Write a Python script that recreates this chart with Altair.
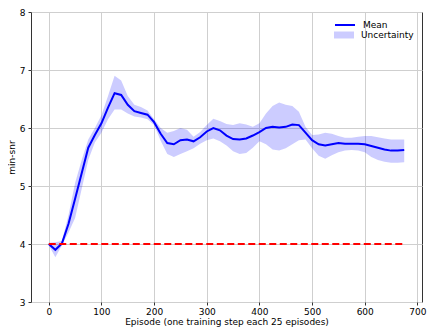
import altair as alt
import pandas as pd

episodes = [i * 12.5 for i in range(55)]
mean_vals = [4.00, 3.90, 4.01, 4.35, 4.78, 5.22, 5.66, 5.88, 6.08, 6.35,
             6.60, 6.57, 6.40, 6.29, 6.26, 6.23, 6.10, 5.90, 5.74, 5.72,
             5.79, 5.80, 5.77, 5.84, 5.94, 6.00, 5.96, 5.87, 5.81, 5.80,
             5.82, 5.87, 5.93, 6.00, 6.02, 6.01, 6.02, 6.06, 6.05, 5.92,
             5.79, 5.72, 5.70, 5.72, 5.74, 5.73, 5.73, 5.73, 5.72, 5.69,
             5.66, 5.63, 5.61, 5.61, 5.62]
lower_vals = [3.98, 3.77, 3.98, 4.20, 4.45, 4.95, 5.45, 5.75, 5.92, 6.15,
              6.32, 6.32, 6.25, 6.20, 6.18, 6.15, 6.05, 5.78, 5.55, 5.50,
              5.55, 5.60, 5.65, 5.73, 5.79, 5.82, 5.77, 5.70, 5.60, 5.55,
              5.57, 5.66, 5.77, 5.72, 5.63, 5.61, 5.65, 5.72, 5.79, 5.80,
              5.65, 5.52, 5.47, 5.53, 5.58, 5.61, 5.62, 5.61, 5.58, 5.50,
              5.45, 5.42, 5.40, 5.40, 5.41]
upper_vals = [4.02, 4.03, 4.05, 4.50, 5.05, 5.45, 5.80, 6.00, 6.22, 6.55,
              6.90, 6.82, 6.55, 6.40, 6.36, 6.30, 6.15, 6.00, 5.92, 5.95,
              6.00, 5.97, 5.85, 5.93, 6.05, 6.16, 6.12, 6.07, 6.05, 6.08,
              6.06, 6.02, 6.08, 6.25, 6.38, 6.44, 6.40, 6.38, 6.28, 6.02,
              5.88, 5.89, 5.92, 5.90, 5.86, 5.83, 5.83, 5.85, 5.86, 5.86,
              5.84, 5.82, 5.80, 5.80, 5.80]
baseline_x = [0, 675]
baseline_y = [4, 4]

df = pd.DataFrame({"episode": episodes, "mean": mean_vals, "lo": lower_vals,
                   "hi": upper_vals})
df["series"] = "Mean"
df["band"] = "Uncertainty"
base_df = pd.DataFrame({"episode": baseline_x, "value": baseline_y})

FONT = "DejaVu Sans"
xscale = alt.Scale(domain=[-33.75, 708.75], nice=False, zero=False)
yscale = alt.Scale(domain=[3, 8], nice=False, zero=False)

xaxis = alt.Axis(values=[0, 100, 200, 300, 400, 500, 600, 700], format="d",
                 title="Episode (one training step each 25 episodes)",
                 grid=True, labelPadding=2, titlePadding=1)
yaxis = alt.Axis(values=[3, 4, 5, 6, 7, 8], format="d", title="min-snr",
                 grid=True, labelPadding=3, titlePadding=3)

band = alt.Chart(df).mark_area(opacity=0.2).encode(
    x=alt.X("episode:Q", scale=xscale, axis=xaxis),
    y=alt.Y("lo:Q", scale=yscale, axis=yaxis),
    y2="hi:Q",
    fill=alt.Fill("band:N",
                  scale=alt.Scale(domain=["Uncertainty"], range=["blue"]),
                  legend=alt.Legend(title=None, orient="none", legendX=303,
                                    legendY=13,
                                    symbolType="M-1,-0.35L1,-0.35L1,0.35L-1,0.35Z",
                                    symbolSize=400, symbolOpacity=0.2,
                                    symbolStrokeWidth=0, labelOffset=7,
                                    labelFont=FONT, labelFontSize=9,
                                    labelColor="black")),
)

line = alt.Chart(df).mark_line(strokeWidth=2).encode(
    x=alt.X("episode:Q", scale=xscale),
    y=alt.Y("mean:Q", scale=yscale),
    stroke=alt.Stroke("series:N",
                      scale=alt.Scale(domain=["Mean"], range=["blue"]),
                      legend=alt.Legend(title=None, orient="none", legendX=303,
                                        legendY=2, symbolType="stroke",
                                        symbolSize=400, symbolStrokeWidth=2,
                                        labelOffset=7,
                                        labelFont=FONT, labelFontSize=9,
                                        labelColor="black")),
)

ref = alt.Chart(base_df).mark_line(color="red", strokeWidth=2,
                                   strokeDash=[7, 3.5]).encode(
    x=alt.X("episode:Q", scale=xscale),
    y=alt.Y("value:Q", scale=yscale),
)

chart = alt.layer(band, line, ref).resolve_scale(
    fill="independent", stroke="independent"
).properties(
    width=391, height=290,
    autosize=alt.AutoSizeParams(type="none"),
    padding={"left": 23, "top": 4, "right": 5, "bottom": 26},
).configure_view(
    stroke="#333333", strokeWidth=1
).configure_axis(
    domain=False, gridColor="#cfcfcf", gridWidth=1, tickColor="#333333",
    tickSize=3, labelFont=FONT, labelFontSize=9,
    labelColor="black", titleFont=FONT, titleFontSize=9,
    titleFontWeight="normal", titleColor="black",
)

chart.save("out.html", embed_options={"renderer": "svg", "actions": False})
